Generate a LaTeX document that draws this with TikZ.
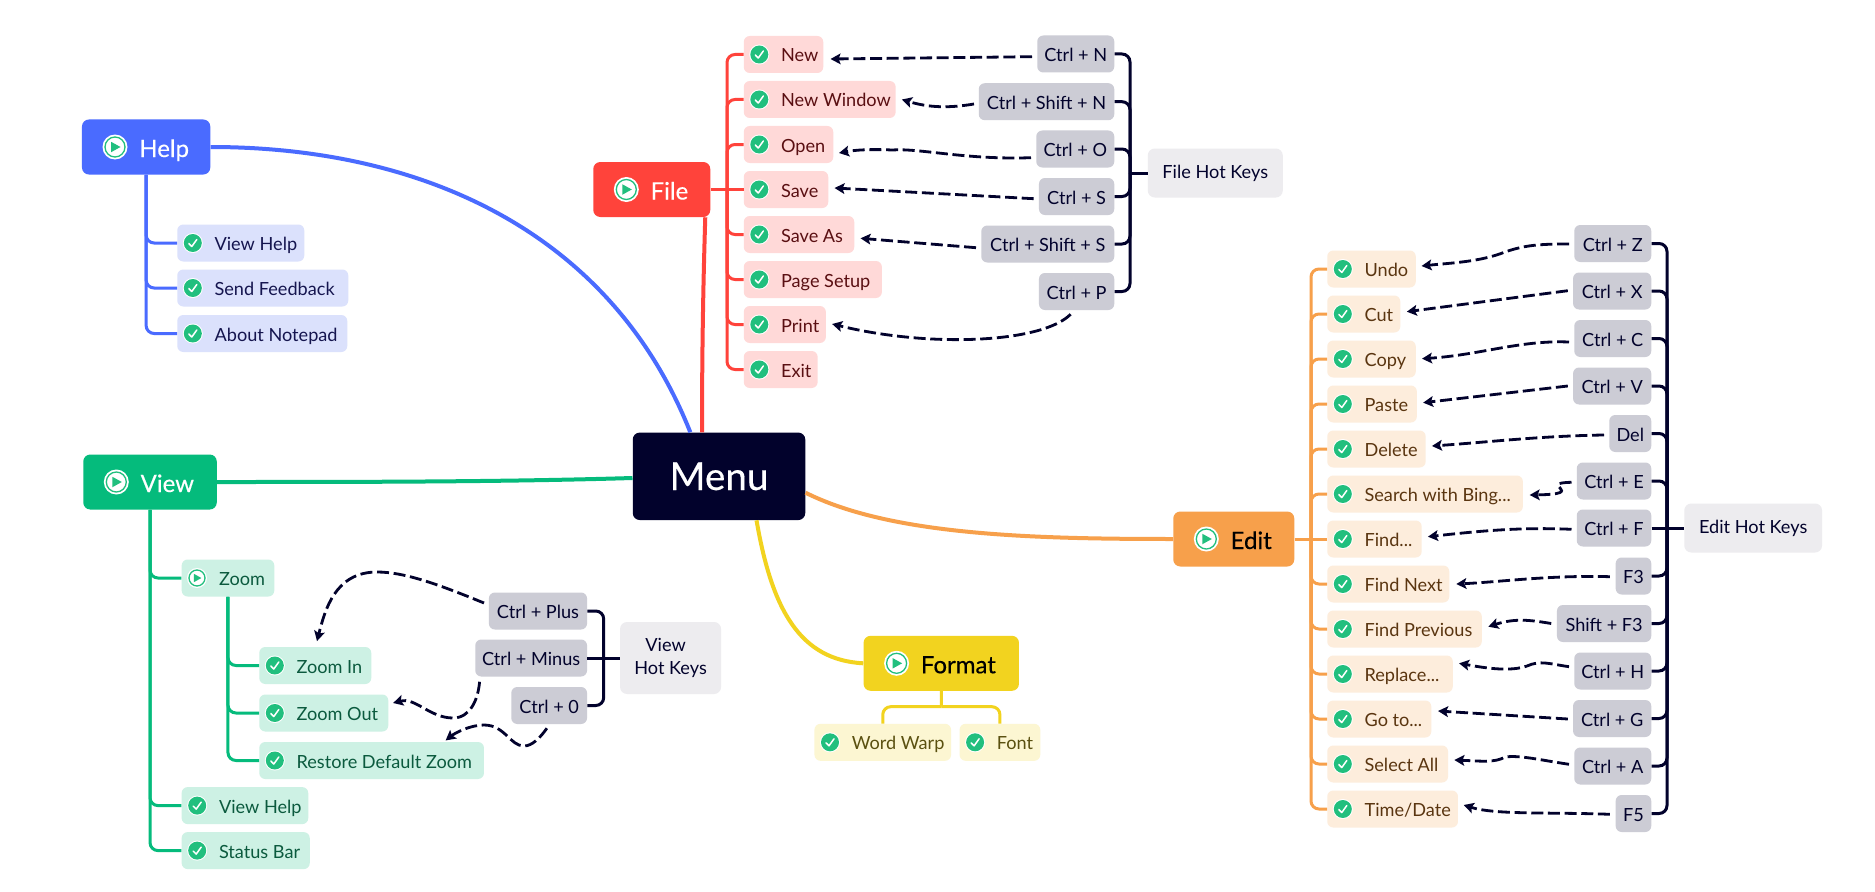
\documentclass[tikz,border=0pt]{standalone}
\usepackage{fontspec}
\setmainfont{Lato}[BoldFont=Lato,BoldFeatures={FakeBold=0.35}]
\usetikzlibrary{arrows.meta}
\newlength\px \setlength\px{0.75pt}
\definecolor{cmenu}{HTML}{02022C}
\definecolor{chelp}{HTML}{4A6BFF}\definecolor{chelpi}{HTML}{DBE1FC}\definecolor{chelpt}{HTML}{15154F}
\definecolor{cfile}{HTML}{FF433B}\definecolor{cfilei}{HTML}{FFD9D8}\definecolor{cfilet}{HTML}{5A0F12}
\definecolor{cview}{HTML}{05BB7C}\definecolor{cviewi}{HTML}{CDF1E4}\definecolor{cviewt}{HTML}{0B5A3E}
\definecolor{cedit}{HTML}{F7A04B}\definecolor{cediti}{HTML}{FDEDDC}\definecolor{cedit t}{HTML}{5A3510}
\definecolor{cform}{HTML}{F2D31F}\definecolor{cformi}{HTML}{FCF6D2}\definecolor{cformt}{HTML}{5A5010}
\definecolor{ckey}{HTML}{CCCCD5}\definecolor{chot}{HTML}{EDECEF}\definecolor{cgreen}{HTML}{21BF7E}
\tikzset{
  itembox/.style={rounded corners=6\px,inner sep=0pt,minimum height=37\px,text height=15\px,text depth=0pt,anchor=west,font=\fontsize{13.6}{16}\selectfont},
  headbox/.style={rounded corners=7\px,inner sep=0pt,minimum height=55\px,text height=20\px,text depth=0pt,anchor=west,font=\fontsize{18}{22}\selectfont\bfseries},
  hotbox/.style={fill=chot,text=cmenu,rounded corners=7\px,inner sep=0pt,align=center,anchor=west,font=\fontsize{13.6}{17.25}\selectfont},
  trunk/.style={line width=3\px,rounded corners=8\px},
  mainline/.style={line width=4\px},
  hk/.style={line width=2.8\px,color=cmenu,dash pattern=on 9pt off 3.5pt,-{Stealth[length=7.5pt,width=8pt,inset=1.5pt]}},
  bracket/.style={line width=3\px,color=cmenu,rounded corners=8\px},
  iconbase/.style={circle,inner sep=0pt,fill=white}
}
\newcommand\chkicon[3]{% name x y
  \node[iconbase,minimum size=20\px,fill=white] (#1) at (#2,#3) {};
  \fill[cgreen] (#2,#3) circle[radius=9\px];
  \draw[white,line width=1.5\px,line cap=round,line join=round] ([shift={(-4,0.5)}]#1.center) -- ([shift={(-1,3.5)}]#1.center) -- ([shift={(4,-3.5)}]#1.center);
}
\newcommand\playicon[4]{% name x y r
  \node[iconbase,minimum size=2*#4\px] (#1) at (#2,#3) {};
  \draw[cgreen,line width=1.3\px] (#1.center) circle[radius=#4*0.8\px];
  \fill[cgreen] ([shift={(-#4*0.32,-#4*0.42)}]#1.center) -- ([shift={(#4*0.44,0)}]#1.center) -- ([shift={(-#4*0.32,#4*0.42)}]#1.center) -- cycle;
}
% fill, text colour, name, x1, x2, y, text
\newcommand\itemn[7]{%
  \pgfmathsetlengthmacro\boxw{(#5-#4)*0.75pt}%
  \node[itembox,fill=#1,text=#2] (#3) at (#4,#6) {\makebox[\boxw][l]{\hspace*{28pt}#7}};
  \chkicon{#3-i}{#4+15.8}{#6}
}
\newcommand\keyn[5]{% name x1 x2 y text
  \pgfmathsetlengthmacro\boxw{(#3-#2)*0.75pt}%
  \node[itembox,fill=ckey,text=cmenu] (#1) at (#2,#4) {\makebox[\boxw][c]{#5}};
}
% fill, text colour, name, x1, x2, y, text
\newcommand\headn[7]{%
  \pgfmathsetlengthmacro\boxw{(#5-#4)*0.75pt}%
  \node[headbox,fill=#1,text=#2] (#3) at (#4,#6) {\makebox[\boxw][l]{\hspace*{43pt}#7}};
  \playicon{#3-i}{#4+33.3}{#6}{12.5}
}
\begin{document}
\begin{tikzpicture}[x=\px,y=-\px]
\useasboundingbox[fill=white] (0,0) rectangle (1875,892);

% ===== nodes =====
\node[fill=cmenu,text=white,rounded corners=7\px,inner sep=0pt,minimum width=172.5\px,minimum height=87.5\px,font=\fontsize{29}{32}\selectfont\bfseries,anchor=west] (menu) at (632.5,476.3) {Menu};

\headn{chelp}{white}{help}{81.7}{210}{147}{Help}
\itemn{chelpi}{chelpt}{h1}{177}{304}{243}{View Help}
\itemn{chelpi}{chelpt}{h2}{177}{348}{288}{Send Feedback}
\itemn{chelpi}{chelpt}{h3}{177}{347}{333.5}{About Notepad}

\headn{cfile}{white}{file}{593}{710}{189.5}{File}
\itemn{cfilei}{cfilet}{new}{743.5}{823}{54.5}{New}
\itemn{cfilei}{cfilet}{newwin}{743.5}{895.4}{99.5}{New Window}
\itemn{cfilei}{cfilet}{open}{743.5}{833}{144.5}{Open}
\itemn{cfilei}{cfilet}{save}{743.5}{828}{189.5}{Save}
\itemn{cfilei}{cfilet}{saveas}{743.5}{854}{234.5}{Save As}
\itemn{cfilei}{cfilet}{setup}{743.5}{881.6}{279.5}{Page Setup}
\itemn{cfilei}{cfilet}{print}{743.5}{825.6}{324.5}{Print}
\itemn{cfilei}{cfilet}{exit}{743.5}{817.4}{369.5}{Exit}
\keyn{kn}{1037}{1114}{54}{Ctrl + N}
\keyn{ksn}{978.5}{1114}{101.7}{Ctrl + Shift + N}
\keyn{ko}{1036}{1114}{149}{Ctrl + O}
\keyn{ks}{1038.7}{1114}{196.5}{Ctrl + S}
\keyn{kss}{981}{1114}{244}{Ctrl + Shift + S}
\keyn{kp}{1038.7}{1114}{291.5}{Ctrl + P}
\node[hotbox,minimum width=135\px,minimum height=49\px] (fhot) at (1147.5,173) {File Hot Keys};

\headn{cview}{white}{view}{83}{216.5}{482}{View}
\pgfmathsetlengthmacro\boxw{(274-181.4)*0.75pt}
\node[itembox,fill=cviewi,text=cviewt] (zoom) at (181.4,578) {\makebox[\boxw][l]{\hspace*{28pt}Zoom}};
\playicon{zoom-i}{197}{578}{10}
\itemn{cviewi}{cviewt}{zin}{259}{371}{665.5}{Zoom In}
\itemn{cviewi}{cviewt}{zout}{259}{388}{713}{Zoom Out}
\itemn{cviewi}{cviewt}{zres}{259}{483.7}{760.5}{Restore Default Zoom}
\itemn{cviewi}{cviewt}{vh}{181.4}{308}{805.6}{View Help}
\itemn{cviewi}{cviewt}{vs}{181.4}{309.5}{850.6}{Status Bar}
\keyn{kplus}{488.6}{586.8}{611}{Ctrl + Plus}
\keyn{kminus}{475}{586.8}{658}{Ctrl + Minus}
\keyn{kzero}{511}{586.8}{705.5}{Ctrl + 0}
\node[hotbox,minimum width=101\px,minimum height=72\px] (vhot) at (619.8,658) {View\hspace*{10\px}\\Hot Keys};

\headn{cform}{black}{format}{863.3}{1018.7}{663.3}{Format}
\itemn{cformi}{cformt}{ww}{814.2}{950.8}{742.3}{Word Warp}
\itemn{cformi}{cformt}{font}{959.3}{1040}{742.3}{Font}

\headn{cedit}{black}{edit}{1173}{1294}{539}{Edit}
\itemn{cediti}{cedit t}{undo}{1327}{1415.5}{269}{Undo}
\itemn{cediti}{cedit t}{cut}{1327}{1400}{314}{Cut}
\itemn{cediti}{cedit t}{copy}{1327}{1415.5}{359}{Copy}
\itemn{cediti}{cedit t}{paste}{1327}{1416.6}{404}{Paste}
\itemn{cediti}{cedit t}{delete}{1327}{1425.4}{449}{Delete}
\itemn{cediti}{cedit t}{search}{1327}{1522.6}{494}{Search with Bing...}
\itemn{cediti}{cedit t}{find}{1327}{1421.4}{539}{Find...}
\itemn{cediti}{cedit t}{fnext}{1327}{1449}{584}{Find Next}
\itemn{cediti}{cedit t}{fprev}{1327}{1481.5}{629}{Find Previous}
\itemn{cediti}{cedit t}{repl}{1327}{1452.5}{674}{Replace...}
\itemn{cediti}{cedit t}{goto}{1327}{1431}{719}{Go to...}
\itemn{cediti}{cedit t}{selall}{1327}{1447.8}{764}{Select All}
\itemn{cediti}{cedit t}{tdate}{1327}{1457.7}{809}{Time/Date}
\keyn{kz}{1574}{1651}{243.5}{Ctrl + Z}
\keyn{kx}{1572.8}{1651}{291}{Ctrl + X}
\keyn{kc}{1574}{1651}{338.5}{Ctrl + C}
\keyn{kv}{1572.8}{1651}{386}{Ctrl + V}
\keyn{kdel}{1609}{1651}{433.5}{Del}
\keyn{ke}{1576.5}{1651}{481}{Ctrl + E}
\keyn{kf}{1576.5}{1651}{528}{Ctrl + F}
\keyn{kf3}{1615.4}{1651}{576}{F3}
\keyn{ksf3}{1556.7}{1651}{623.5}{Shift + F3}
\keyn{kh}{1574}{1651}{671}{Ctrl + H}
\keyn{kg}{1572.8}{1651}{718.5}{Ctrl + G}
\keyn{ka}{1574}{1651}{766}{Ctrl + A}
\keyn{kf5}{1615.4}{1651}{813.5}{F5}
\node[hotbox,minimum width=137.8\px,minimum height=49\px] (ehot) at (1684,528) {Edit Hot Keys};

% ===== main branches =====
\draw[mainline,chelp] (help.east) .. controls (420,147) and (610,230) .. ([shift={(-28.7,0)}]menu.north);
\draw[mainline,cfile] ([shift={(53.5,0)}]file.south) .. controls (703,290) and (702,360) .. ([shift={(-17,0)}]menu.north);
\draw[mainline,cview] (view.east) .. controls (350,482) and (500,482) .. ([shift={(0,1.7)}]menu.west);
\draw[mainline,cedit] ([shift={(0,16.4)}]menu.east) .. controls (890,535) and (1030,539) .. (edit.west);
\draw[mainline,cform] ([shift={(37.5,0)}]menu.south) .. controls (772,610) and (800,660) .. (format.west);

% ===== trunks =====
\draw[trunk,chelp] (help.south) |- (h1.west);
\draw[trunk,chelp] (help.south) |- (h2.west);
\draw[trunk,chelp] (help.south) |- (h3.west);

\coordinate (fj) at (727,189.5);
\draw[line width=3\px,cfile] (file.east) -- (save.west);
\foreach \n in {new,newwin,open,saveas,setup,print,exit}
  \draw[trunk,cfile] (\n.west) -| (fj);

\draw[trunk,cview] (view.south) |- (zoom.west);
\draw[trunk,cview] (view.south) |- (vh.west);
\draw[trunk,cview] (view.south) |- (vs.west);
\draw[trunk,cview] (zoom.south) |- (zin.west);
\draw[trunk,cview] (zoom.south) |- (zout.west);
\draw[trunk,cview] (zoom.south) |- (zres.west);

\coordinate (fmj) at (941.4,706.7);
\draw[line width=3\px,cform] (format.south) -- (fmj);
\draw[trunk,cform] (fmj) -| (ww.north);
\draw[trunk,cform] (fmj) -| (font.north);

\coordinate (ej) at (1311,539);
\draw[line width=3\px,cedit] (edit.east) -- (find.west);
\foreach \n in {undo,cut,copy,paste,delete,search,fnext,fprev,repl,goto,selall,tdate}
  \draw[trunk,cedit] (\n.west) -| (ej);

% ===== hot key brackets =====
\coordinate (fhj) at (1130,173);
\draw[line width=3\px,cmenu] (fhj) -- (fhot.west);
\foreach \n in {kn,ksn,ko,ks,kss,kp}
  \draw[bracket] (\n.east) -| (fhj);

\coordinate (vhj) at (603.7,658);
\draw[line width=3\px,cmenu] (kminus.east) -- (vhot.west);
\draw[bracket] (kplus.east) -| (vhj);
\draw[bracket] (kzero.east) -| (vhj);

\coordinate (ehj) at (1667,528);
\draw[line width=3\px,cmenu] (kf.east) -- (ehot.west);
\foreach \n in {kz,kx,kc,kv,kdel,ke,kf3,ksf3,kh,kg,ka,kf5}
  \draw[bracket] (\n.east) -| (ehj);

% ===== dashed hot key arrows =====
\draw[hk] ([shift={(-5,2.7)}]kn.west) -- ([shift={(7,4.5)}]new.east);
\draw[hk] ([shift={(-4.5,2.3)}]ksn.west) .. controls (950,108) and (930,108) .. ([shift={(6,0)}]newwin.east);
\draw[hk] ([shift={(-5,8.7)}]ko.west) .. controls (965,160) and (920,148) .. (892,150) .. controls (870,149) and (855,150) .. ([shift={(5.5,8.5)}]open.east);
\draw[hk] ([shift={(-5,2.2)}]ks.west) -- ([shift={(6,-1.5)}]save.east);
\draw[hk] ([shift={(-5,3.7)}]kss.west) -- ([shift={(6,3.8)}]saveas.east);
\draw[hk] ([shift={(-6,4)}]kp.south) .. controls (1042,343) and (930,348) .. ([shift={(6,-0.5)}]print.east);

\draw[hk] ([shift={(-5,0.5)}]kz.west) .. controls (1540,244) and (1525,245) .. (1505,252) .. controls (1480,262) and (1450,263) .. ([shift={(5.5,-3)}]undo.east);
\draw[hk] ([shift={(-5,-0.3)}]kx.west) -- ([shift={(6.3,-2.3)}]cut.east);
\draw[hk] ([shift={(-5,3.5)}]kc.west) .. controls (1520,340) and (1480,355) .. ([shift={(6,-0.3)}]copy.east);
\draw[hk] ([shift={(-5,0)}]kv.west) -- ([shift={(6,-1.3)}]paste.east);
\draw[hk] ([shift={(-5,1.5)}]kdel.west) .. controls (1540,436) and (1490,442) .. ([shift={(6,-3)}]delete.east);
\draw[hk] ([shift={(-5,1.3)}]ke.west) .. controls (1535,483) and (1590,494) .. ([shift={(6.5,1)}]search.east);
\draw[hk] ([shift={(-5,1.3)}]kf.west) .. controls (1520,527) and (1480,531) .. ([shift={(6,-2.3)}]find.east);
\draw[hk] ([shift={(-5.5,0.7)}]kf3.west) .. controls (1550,575) and (1500,582) .. ([shift={(6.8,0)}]fnext.east);
\draw[hk] ([shift={(-5.5,0)}]ksf3.west) .. controls (1530,620) and (1515,618) .. ([shift={(6.3,-2.3)}]fprev.east);
\draw[hk] ([shift={(-5,-4.3)}]kh.west) .. controls (1550,664) and (1540,660) .. (1527,666) .. controls (1510,672) and (1485,668) .. ([shift={(6,-10.7)}]repl.east);
\draw[hk] ([shift={(-5,0.5)}]kg.west) -- ([shift={(6.5,-8)}]goto.east);
\draw[hk] ([shift={(-5,-1.7)}]ka.west) .. controls (1540,760) and (1520,755) .. (1505,757) .. controls (1495,763) and (1480,761) .. ([shift={(6,-4)}]selall.east);
\draw[hk] ([shift={(-5.5,0.8)}]kf5.west) .. controls (1550,812) and (1495,815) .. ([shift={(5.5,-4)}]tdate.east);

\draw[hk] ([shift={(-4.6,-8)}]kplus.west) .. controls (440,585) and (405,572) .. (377,572) .. controls (335,572) and (325,610) .. ([shift={(1.7,-5.6)}]zin.north);
\draw[hk] ([shift={(4.6,5)}]kminus.south west) .. controls (478,700) and (470,718) .. (453,718) .. controls (430,718) and (415,697) .. ([shift={(4.6,-10)}]zout.east);
\draw[hk] ([shift={(-2.3,4)}]kzero.south) .. controls (540,738) and (532,746) .. (524,746) .. controls (510,746) and (505,725) .. (484,725) .. controls (470,725) and (455,733) .. ([shift={(74,-1.3)}]zres.north);
\end{tikzpicture}
\end{document}
